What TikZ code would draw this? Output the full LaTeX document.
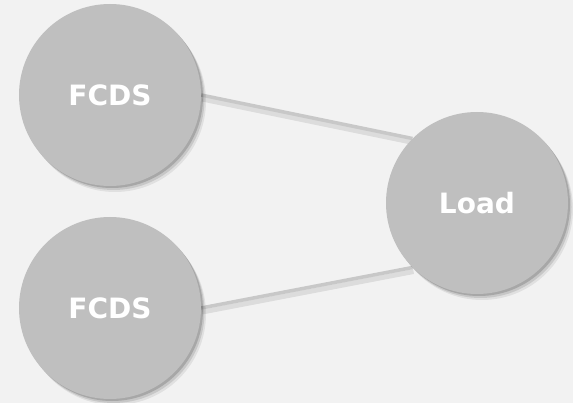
\documentclass[tikz,border=0pt]{standalone}
\usepackage{fontspec}
\setmainfont{DejaVu Sans}
\usepackage{tikz}
\usetikzlibrary{shadows,backgrounds}
\definecolor{paper}{RGB}{242,242,242}
\definecolor{nodegray}{RGB}{191,191,191}
\definecolor{linkgray}{RGB}{200,200,200}
\pgfdeclarelayer{paperlayer}
\pgfdeclarelayer{linklayer}
\pgfsetlayers{paperlayer,linklayer,main}

\begin{document}
\begin{tikzpicture}[
  x=1pt, y=-1pt,
  unit/.style={circle,fill=nodegray,minimum size=182pt,inner sep=0pt,
    text=white,font=\fontsize{28}{30}\selectfont\bfseries,
    preaction={fill=black,opacity=0.07,transform canvas={shift={(5pt,-6pt)}}},
    preaction={fill=black,opacity=0.11,transform canvas={shift={(3.5pt,-4pt)}}},
    preaction={fill=black,opacity=0.16,transform canvas={shift={(2pt,-2pt)}}}},
  link/.style={draw=linkgray,line width=3.5pt,
    preaction={draw=black,opacity=0.09,line width=5pt,
      transform canvas={shift={(1pt,-4pt)}}}},
]
\useasboundingbox (0,0) rectangle (573,403);
\begin{pgfonlayer}{paperlayer}
  \fill[paper] (0,0) rectangle (573,403);
\end{pgfonlayer}

\node[unit] (fcdsA) at (110,95) {FCDS};
\node[unit] (fcdsB) at (110,308) {FCDS};
\node[unit] (load) at (477,203) {Load};

\begin{pgfonlayer}{linklayer}
  \draw[link] (fcdsA.east) -- (load.135);
  \draw[link] (fcdsB.east) -- (load.225);
\end{pgfonlayer}
\end{tikzpicture}
\end{document}
